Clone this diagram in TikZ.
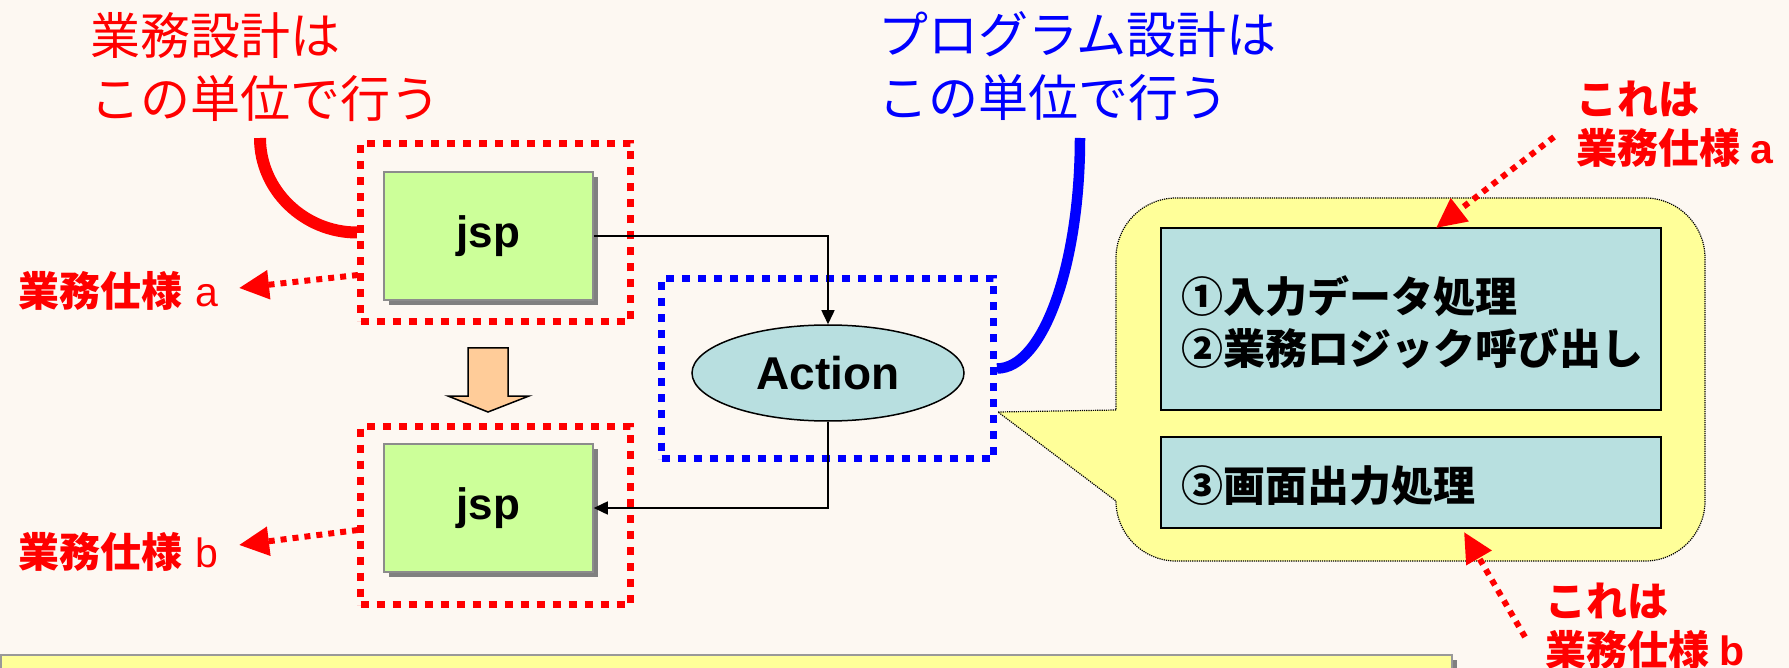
\documentclass[tikz,border=0pt]{standalone}
\usepackage{fontspec}
\setmainfont{Liberation Sans}
\newfontfamily\jp{Noto Sans CJK JP}
\usetikzlibrary{arrows.meta,shapes.geometric,shadows}
\definecolor{bgc}{HTML}{FDF8F2}
\definecolor{jspfill}{HTML}{CCFF99}
\definecolor{jspedge}{HTML}{8C8C8C}
\definecolor{shadowc}{HTML}{808080}
\definecolor{ellfill}{HTML}{B8DFE0}
\definecolor{procfill}{HTML}{B8E0E0}
\definecolor{callfill}{HTML}{FFFF99}
\definecolor{orangefill}{HTML}{FFCC99}
\definecolor{botedge}{HTML}{999999}
\begin{document}
\begin{tikzpicture}[x=1pt,y=-1pt,
  ttl/.style={anchor=base west,inner sep=0pt,font=\jp\fontsize{50}{50}\selectfont},
  lbl/.style={anchor=base west,inner sep=0pt,text=red,font=\jp\bfseries\fontsize{41}{41}\selectfont},
  jspbox/.style={rectangle,draw=jspedge,line width=1.5pt,fill=jspfill,minimum width=209pt,minimum height=128pt,inner sep=0pt,font=\bfseries\fontsize{44}{44}\selectfont,drop shadow={shadow xshift=5pt,shadow yshift=-5pt,fill=shadowc,opacity=1}},
  zone/.style={rectangle,line width=7pt,dash pattern=on 8pt off 8pt,inner sep=0pt},
  actnode/.style={ellipse,draw=black,line width=1.5pt,fill=ellfill,minimum width=272pt,minimum height=96pt,inner sep=0pt,font=\bfseries\fontsize{46}{46}\selectfont},
  procbox/.style={rectangle,draw=black,line width=2pt,fill=procfill,inner sep=0pt,minimum width=500pt},
  proctxt/.style={anchor=base west,inner sep=0pt,font=\jp\bfseries\fontsize{42}{42}\selectfont},
  conn/.style={black,line width=1.5pt,-{Triangle[length=14pt,width=13pt]}},
  redarrow/.style={red,line width=6pt,dash pattern=on 6pt off 6pt,-{Triangle[length=30pt,width=28pt]}},
  callout/.style={fill=callfill,draw=black,line width=1.2pt,densely dotted},
  botbox/.style={rectangle,draw=botedge,line width=2pt,fill=callfill,inner sep=0pt,minimum width=1451pt,minimum height=80pt,drop shadow={shadow xshift=5pt,shadow yshift=-5pt,fill=shadowc,opacity=1}}
]
\clip (0,0) rectangle (1789,668);
\fill[bgc] (0,0) rectangle (1789,668);

% titles
\node[ttl,text=red] (rt1) at (90,55) {業務設計は};
\node[ttl,text=red] (rt2) at (90,118) {この単位で行う};
\node[ttl,text=blue] (bt1) at (878,54) {プログラム設計は};
\node[ttl,text=blue] (bt2) at (878,117) {この単位で行う};

% zones
\node[zone,draw=red,minimum width=270pt,minimum height=178pt] (rb1) at (495.5,232.5) {};
\node[zone,draw=red,minimum width=270pt,minimum height=178pt] (rb2) at (495.5,515.5) {};
\node[zone,draw=blue,minimum width=332pt,minimum height=180pt] (bb) at (827.5,368.5) {};

% jsp boxes
\node[jspbox] (jsp1) at (488.5,236) {jsp};
\node[jspbox] (jsp2) at (488.5,508) {jsp};

% action
\node[actnode] (act) at (828,373) {Action};

% orange arrow
\draw[fill=orangefill,line width=1.5pt,line join=miter] (468,348) -- (508,348) -- (508,396) -- (529,396) -- (488,412) -- (448,396) -- (468,396) -- cycle;

% connectors
\draw[conn] (jsp1.east) -| (act.north);
\draw[conn] (act.south) |- (jsp2.east);

% callout
\path[callout] (1116,410) -- (998,412) -- (1116,501)
  .. controls (1116,534) and (1143,561) .. (1176,561)
  -- (1645,561) .. controls (1678,561) and (1705,534) .. (1705,501)
  -- (1705,258) .. controls (1705,225) and (1678,198) .. (1645,198)
  -- (1176,198) .. controls (1143,198) and (1116,225) .. (1116,258)
  -- cycle;
\node[procbox,minimum height=182pt] (p1) at (1411,319) {};
\node[procbox,minimum height=91pt] (p2) at (1411,482.5) {};
\node[proctxt] (t1) at (1181,313) {①入力データ処理};
\node[proctxt] (t2) at (1181,364) {②業務ロジック呼び出し};
\node[proctxt] (t3) at (1181,501) {③画面出力処理};

% thick curves
\coordinate (rstart) at (260,138);
\coordinate (bstart) at (1080,138);
\draw[red,line width=12pt] (rstart) .. controls (260,190) and (304,232.5) .. (rb1.west);
\draw[blue,line width=10.5pt] (bstart) .. controls (1080,265) and (1043,368.5) .. (bb.east);

% labels
\node[lbl] (la) at (18,307) {業務仕様\hspace{13pt}{\rmfamily\mdseries a}};
\node[lbl] (lb) at (18,567) {業務仕様\hspace{13pt}{\rmfamily\mdseries b}};
\node[lbl] (ra1) at (1576,115) {これは};
\node[lbl] (ra2) at (1576,164) {業務仕様\hspace{10pt}{\rmfamily a}};
\node[lbl] (rbl1) at (1545,616) {これは};
\node[lbl] (rbl2) at (1545,665) {業務仕様\hspace{10pt}{\rmfamily b}};

% red dotted arrows
\coordinate (ta) at (358,275);
\coordinate (ha) at (239,288);
\coordinate (tb) at (358,530);
\coordinate (hb) at (239,545);
\coordinate (tra) at (1554,137);
\coordinate (hra) at (1436,228);
\coordinate (trb) at (1525,637);
\coordinate (hrb) at (1464,532);
\draw[redarrow] (ta) -- (ha);
\draw[redarrow] (tb) -- (hb);
\draw[redarrow] (tra) -- (hra);
\draw[redarrow] (trb) -- (hrb);

% bottom box
\node[botbox] (bot) at (726.5,695) {};
\end{tikzpicture}
\end{document}
